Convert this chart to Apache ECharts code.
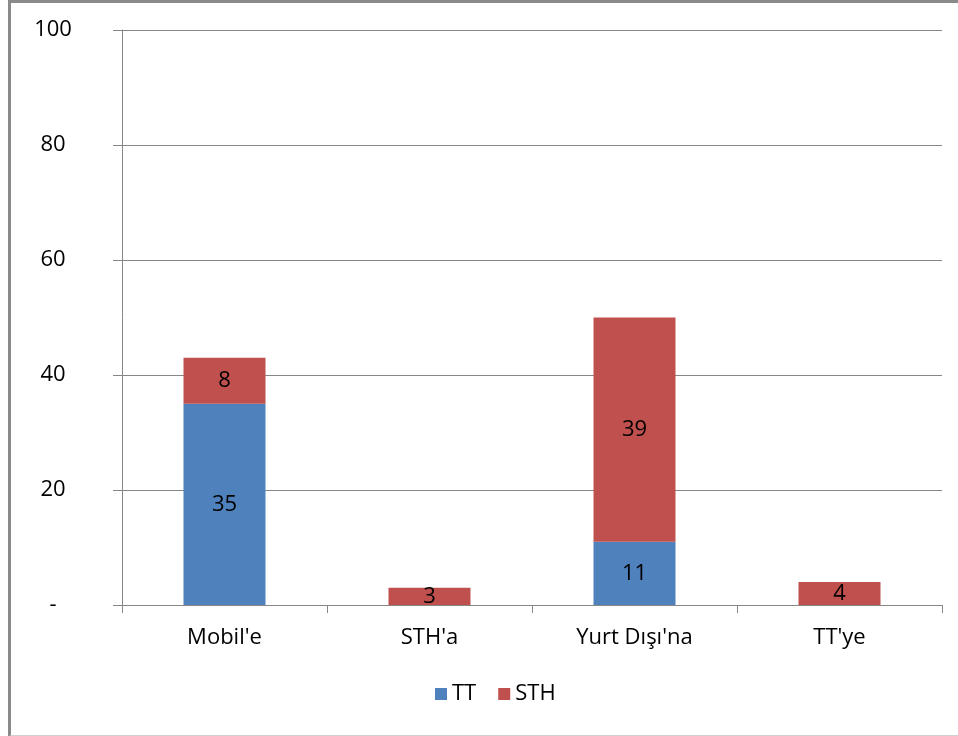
<!DOCTYPE html>
<html><head><meta charset="utf-8">
<script src="https://cdn.jsdelivr.net/npm/echarts@6/dist/echarts.min.js"></script>
<style>
html,body{margin:0;padding:0;background:#fff;}
#c{width:958px;height:736px;position:absolute;left:0;top:0;}
#frame{position:absolute;left:8px;top:0;width:960px;height:732px;border-top:3px solid #8a8a8a;border-left:3px solid #8a8a8a;border-bottom:2px solid #d0d0d0;pointer-events:none;}
</style></head>
<body>
<div id="c"></div>
<div id="frame"></div>
<script>
const categories = ["Mobil'e", "STH'a", "Yurt Dışı'na", "TT'ye"];
const ttValues = [35, 0, 11, 0];
const sthValues = [8, 3, 39, 4];
const yTicks = [0, 20, 40, 60, 80, 100];

const chart = echarts.init(document.getElementById('c'));
const font = "'Open Sans', sans-serif";
const FS = 22;
const lbl = {show:true, position:'inside', color:'#000', fontSize:FS, fontFamily:font,
  formatter: p => p.value ? String(p.value) : ''};
chart.setOption({
  animation:false,
  textStyle:{fontFamily:font},
  grid:{left:122, right:16, top:30, bottom:131},
  legend:{bottom:26, left:430, itemWidth:12, itemHeight:12, itemGap:22, icon:'rect',
    textStyle:{fontSize:FS, color:'#000', fontFamily:font}, data:['TT','STH']},
  xAxis:{type:'category', data:categories,
    axisLine:{lineStyle:{color:'#868686'}},
    axisTick:{show:true, alignWithLabel:false, length:8, lineStyle:{color:'#868686'}},
    axisLabel:{fontSize:FS, color:'#000', margin:22, fontFamily:font}},
  yAxis:{type:'value', min:yTicks[0], max:yTicks[yTicks.length-1], interval:20,
    axisLine:{show:true, lineStyle:{color:'#868686'}},
    axisTick:{show:true, length:9, lineStyle:{color:'#868686'}},
    splitLine:{lineStyle:{color:'#868686'}},
    axisLabel:{fontSize:FS, color:'#000', margin:69, align:'center', fontFamily:font,
      formatter: v => v === 0 ? '-' : String(v)}},
  series:[
    {name:'TT', type:'bar', stack:'a', data:ttValues, barWidth:'40%',
      itemStyle:{color:'#4F81BD'}, label:lbl},
    {name:'STH', type:'bar', stack:'a', data:sthValues, barWidth:'40%',
      itemStyle:{color:'#C0504D'}, label:lbl}
  ]
});
</script>
</body></html>
